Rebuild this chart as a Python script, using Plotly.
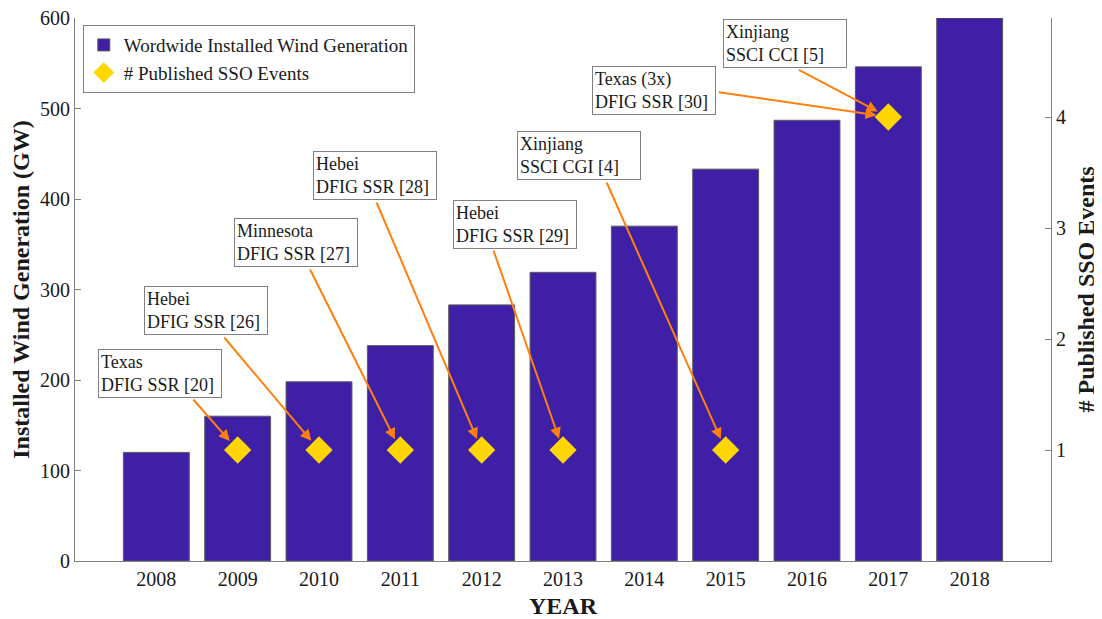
import plotly.graph_objects as go

# ---- data ----
years = [2008, 2009, 2010, 2011, 2012, 2013, 2014, 2015, 2016, 2017, 2018]
installed_gw = [120, 160, 198, 238, 283, 319, 370, 433, 487, 546, 600]

event_years = [2009, 2010, 2011, 2012, 2013, 2015, 2017]
event_counts = [1, 1, 1, 1, 1, 1, 4]

label_years = [2009, 2010, 2011, 2012, 2013, 2015, 2017, 2017]
label_texts = [
    "Texas<br>DFIG SSR [20]",
    "Hebei<br>DFIG SSR [26]",
    "Minnesota<br>DFIG SSR [27]",
    "Hebei<br>DFIG SSR [28]",
    "Hebei<br>DFIG SSR [29]",
    "Xinjiang<br>SSCI CGI [4]",
    "Texas (3x)<br>DFIG SSR [30]",
    "Xinjiang<br>SSCI CCI [5]",
]

# ---- layout helpers (pixel offsets of boxes / arrow tails from the marker) ----
box_shift = [(-78, 77), (-113, 139.5), (-104.5, 207.5), (-106.5, 274.5),
             (-48, 226), (-147, 294.5), (-234.5, 26.5), (-103, 73.5)]
arrow_tail = [(-45.7, -52), (-96, -114), (-91, -182), (-105.7, -249),
              (-70, -201), (-119.7, -269), (-171, -25), (-91, -48)]

FONT = "Liberation Serif, Times New Roman, serif"
BAR_COLOR = "#3F1FA6"
DIAMOND_COLOR = "#FFD700"
ARROW_COLOR = "#FF800E"
AXIS_COLOR = "#808080"
TEXT_COLOR = "#1a1a1a"

count_by_year = dict(zip(event_years, event_counts))

fig = go.Figure()
fig.add_trace(go.Bar(
    x=years, y=installed_gw, name="Wordwide Installed Wind Generation",
    marker=dict(color=BAR_COLOR, line=dict(color="#5a5a5a", width=1)),
    width=0.81, yaxis="y",
))
fig.add_trace(go.Scatter(
    x=event_years, y=event_counts, name="# Published SSO Events",
    mode="markers", yaxis="y2",
    marker=dict(symbol="diamond", size=21, color=DIAMOND_COLOR, line=dict(width=0)),
))

annotations = []
for yr, txt, (dx, dy), (tx, ty) in zip(label_years, label_texts, box_shift, arrow_tail):
    cnt = count_by_year[yr]
    annotations.append(dict(
        x=yr, y=cnt, xref="x", yref="y2", text="", showarrow=True,
        ax=tx, ay=ty, axref="pixel", ayref="pixel",
        arrowhead=2, arrowsize=1.1, arrowwidth=2, arrowcolor=ARROW_COLOR,
        standoff=12,
    ))
    annotations.append(dict(
        x=yr, y=cnt, xref="x", yref="y2", text=txt, showarrow=False,
        xshift=dx, yshift=dy, xanchor="center", yanchor="middle",
        align="left", width=118,
        font=dict(family=FONT, size=18, color=TEXT_COLOR),
        bgcolor="white", bordercolor=AXIS_COLOR, borderwidth=1, borderpad=2,
    ))

# right axis title (placed in the right margin)
annotations.append(dict(
    x=1.0, y=0.5, xref="paper", yref="paper", xanchor="center", yanchor="middle",
    xshift=34, text="<b># Published SSO Events</b>", showarrow=False, textangle=-90,
    font=dict(family=FONT, size=24, color=TEXT_COLOR),
))

fig.update_layout(
    width=1094, height=611,
    margin=dict(l=67, r=51, t=10, b=58),
    paper_bgcolor="white", plot_bgcolor="white",
    font=dict(family=FONT, size=20, color=TEXT_COLOR),
    showlegend=True,
    legend=dict(
        x=0.008, y=0.987, xanchor="left", yanchor="top",
        bgcolor="white", bordercolor=AXIS_COLOR, borderwidth=1,
        font=dict(family=FONT, size=19, color=TEXT_COLOR),
        tracegroupgap=0, itemsizing="trace",
    ),
    xaxis=dict(
        range=[2007, 2019], tickmode="array", tickvals=years,
        ticktext=[str(y) for y in years], ticks="", showgrid=False,
        showline=True, linecolor=AXIS_COLOR, linewidth=1, zeroline=False,
        tickfont=dict(size=20), automargin=False,
        title=dict(text="<b>YEAR</b>", font=dict(size=24), standoff=9),
    ),
    yaxis=dict(
        range=[0, 600], tickmode="array", tickvals=[0, 100, 200, 300, 400, 500, 600],
        ticks="inside", ticklen=6, tickcolor=AXIS_COLOR, showgrid=False,
        showline=True, linecolor=AXIS_COLOR, linewidth=1, zeroline=False,
        tickfont=dict(size=20), automargin=False, ticklabeloverflow="allow",
        title=dict(text="<b>Installed Wind Generation (GW)</b>", font=dict(size=24), standoff=4),
    ),
    yaxis2=dict(
        range=[0, 4.892], overlaying="y", side="right", tickmode="array",
        tickvals=[1, 2, 3, 4], ticks="inside", ticklen=6, tickcolor=AXIS_COLOR,
        showgrid=False, showline=True, linecolor=AXIS_COLOR, linewidth=1,
        zeroline=False, tickfont=dict(size=20), automargin=False,
    ),
    annotations=annotations,
    bargap=0.19,
)

fig.write_html("out.html")
